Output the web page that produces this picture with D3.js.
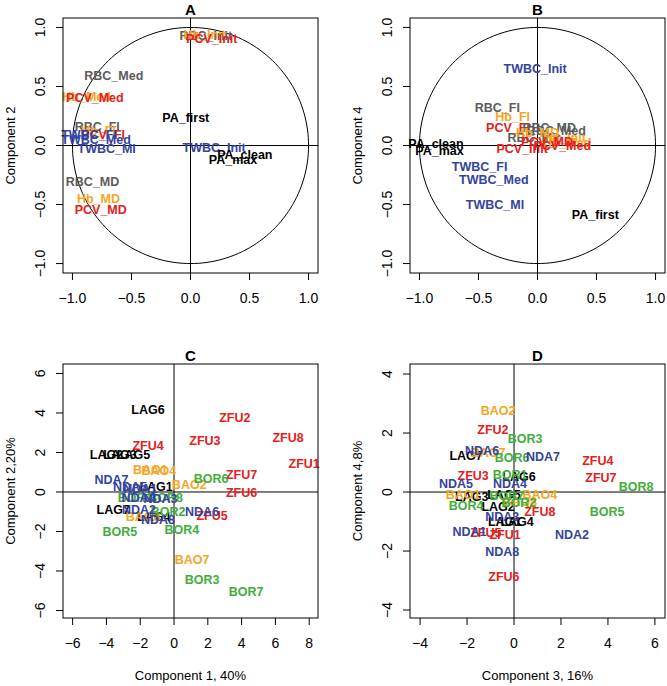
<!DOCTYPE html>
<html><head><meta charset="utf-8">
<script src="https://cdn.jsdelivr.net/npm/d3@7"></script>
<style>body{margin:0;background:#fff}svg{display:block}text{font-family:"Liberation Sans",Arial,sans-serif}</style>
</head><body><svg id="c" width="667" height="686"></svg>
<script>
// ---- variable loadings (panels A, B) ----
const varNames = ["RBC_Init","Hb_Init","PCV_Init","RBC_Med","Hb_Med","PCV_Med","RBC_FI","Hb_FI","PCV_FI","RBC_MD","Hb_MD","PCV_MD","TWBC_Init","TWBC_Med","TWBC_FI","TWBC_MI","PA_first","PA_clean","PA_max"];
const varGroup = ["RBC","Hb","PCV","RBC","Hb","PCV","RBC","Hb","PCV","RBC","Hb","PCV","TWBC","TWBC","TWBC","TWBC","PA","PA","PA"];
const loadA_x = [0.13,0.12,0.18,-0.65,-0.88,-0.81,-0.79,-0.78,-0.74,-0.83,-0.78,-0.76,0.20,-0.80,-0.86,-0.71,-0.04,0.46,0.36];
const loadA_y = [0.93,0.94,0.90,0.59,0.41,0.40,0.16,0.12,0.09,-0.31,-0.45,-0.55,-0.02,0.05,0.09,-0.03,0.23,-0.08,-0.12];
const loadB_x = [-0.03,0.23,-0.13,0.16,0.25,0.21,-0.34,-0.21,-0.25,0.10,0.0,0.08,-0.02,-0.37,-0.49,-0.36,0.49,-0.86,-0.83];
const loadB_y = [0.06,0.06,-0.03,0.12,0.02,0.0,0.32,0.24,0.15,0.15,0.11,0.03,0.65,-0.29,-0.18,-0.50,-0.59,0.01,-0.05];

// ---- sample scores (panels C, D) ----
const sampleNames = ["LAG1","LAG2","LAG3","LAG4","LAG5","LAG6","LAG7","ZFU1","ZFU2","ZFU3","ZFU4","ZFU5","ZFU6","ZFU7","ZFU8","BAO1","BAO2","BAO4","BAO7","BAO8","BOR1","BOR2","BOR3","BOR4","BOR5","BOR6","BOR7","BOR8","NDA1","NDA2","NDA3","NDA4","NDA5","NDA6","NDA7","NDA8"];
const sampleGroup = ["LAG","LAG","LAG","LAG","LAG","LAG","LAG","ZFU","ZFU","ZFU","ZFU","ZFU","ZFU","ZFU","ZFU","BAO","BAO","BAO","BAO","BAO","BOR","BOR","BOR","BOR","BOR","BOR","BOR","BOR","NDA","NDA","NDA","NDA","NDA","NDA","NDA","NDA"];
const scoreC_x = [-1.06,-4.0,-3.2,-1.2,-2.4,-1.54,-3.6,7.7,3.6,1.83,-1.54,2.25,4.0,4.0,6.75,-1.4,0.9,-0.9,1.07,-1.83,-2.3,-0.35,1.66,0.47,-3.2,2.2,4.26,-0.5,-2.0,-2.07,-0.8,-2.1,-2.6,1.66,-3.7,-0.95];
const scoreC_y = [0.25,1.85,1.85,-1.25,1.85,4.15,-0.9,1.42,3.75,2.58,2.33,-1.2,-0.05,0.85,2.73,1.1,0.35,1.05,-3.44,-1.25,-0.3,-1.0,-4.46,-1.93,-2.03,0.65,-5.06,-0.3,0.15,-0.9,-0.35,-0.3,0.25,-1.0,0.6,-1.4];
const scoreD_x = [-0.4,-0.68,-1.8,0.13,-0.43,0.21,-2.04,-0.38,-0.9,-1.74,3.57,-1.2,-0.43,3.7,1.1,-2.17,-0.68,1.1,-1.1,0.25,-0.17,0.21,0.47,-2.04,3.96,-0.08,-0.3,5.2,-1.9,2.47,-0.5,-0.17,-2.47,-1.36,1.23,-0.5];
const scoreD_y = [-1.02,-0.5,-0.17,-1.02,-0.1,0.51,1.22,-1.46,2.1,0.54,1.05,-1.39,-2.88,0.47,-0.68,-0.1,2.75,-0.1,1.32,-0.33,0.58,-0.37,1.8,-0.47,-0.68,1.15,-0.15,0.17,-1.35,-1.46,-0.85,0.27,0.27,1.39,1.19,-2.03];

// ---- axes ----
const ticksLoad = [-1,-0.5,0,0.5,1];
const ticksC_x = [-6,-4,-2,0,2,4,6,8];
const ticksC_y = [-6,-4,-2,0,2,4,6];
const ticksD_x = [-4,-2,0,2,4,6];
const ticksD_y = [-4,-2,0,2,4];

const colors = {RBC:"#5c5c5c",Hb:"#f5a623",PCV:"#e3201b",TWBC:"#3344a0",PA:"#000000",
  LAG:"#000000",ZFU:"#e3201b",BAO:"#f5a623",BOR:"#3fae3a",NDA:"#3344a0"};

const svg = d3.select("#c");
svg.append("rect").attr("width",667).attr("height",686).attr("fill","#fff");

const panels = [
  {title:"A", box:[63,18,318,273], xd:[-1.08,1.08], yd:[-1.08,1.08], xt:ticksLoad, yt:ticksLoad, fmt:d3.format(".1f"), circle:true,
   names:varNames, groups:varGroup, xs:loadA_x, ys:loadA_y, ylab:"Component 2", xlab:null},
  {title:"B", box:[410,18,665,273], xd:[-1.08,1.08], yd:[-1.08,1.08], xt:ticksLoad, yt:ticksLoad, fmt:d3.format(".1f"), circle:true,
   names:varNames, groups:varGroup, xs:loadB_x, ys:loadB_y, ylab:"Component 4", xlab:null},
  {title:"C", box:[63,364,318,618], xd:[-6.57,8.52], yd:[-6.38,6.48], xt:ticksC_x, yt:ticksC_y, fmt:d3.format("d"), circle:false,
   names:sampleNames, groups:sampleGroup, xs:scoreC_x, ys:scoreC_y, ylab:"Component 2,20%", xlab:"Component 1, 40%"},
  {title:"D", box:[410,364,665,618], xd:[-4.43,6.43], yd:[-4.27,4.34], xt:ticksD_x, yt:ticksD_y, fmt:d3.format("d"), circle:false,
   names:sampleNames, groups:sampleGroup, xs:scoreD_x, ys:scoreD_y, ylab:"Component 4,8%", xlab:"Component 3, 16%"}
];

panels.forEach(p => {
  const [x0,y0,x1,y1] = p.box;
  const x = d3.scaleLinear().domain(p.xd).range([x0,x1]);
  const y = d3.scaleLinear().domain(p.yd).range([y1,y0]);
  const g = svg.append("g");

  // zero lines
  g.append("line").attr("x1",x(0)).attr("x2",x(0)).attr("y1",y0).attr("y2",y1).attr("stroke","#000");
  g.append("line").attr("x1",x0).attr("x2",x1).attr("y1",y(0)).attr("y2",y(0)).attr("stroke","#000");

  if (p.circle) {
    const ang = d3.range(0, 361, 2).map(a => a*Math.PI/180);
    g.append("path").datum(ang)
      .attr("d", d3.line().x(a => x(Math.cos(a))).y(a => y(Math.sin(a))))
      .attr("fill","none").attr("stroke","#000").attr("stroke-width",1);
  }

  // labels
  g.selectAll("text.lab").data(p.names).join("text")
    .attr("class","lab")
    .attr("x",(d,i)=>x(p.xs[i])).attr("y",(d,i)=>y(p.ys[i]))
    .attr("text-anchor","middle").attr("dominant-baseline","central")
    .attr("font-size",12.5).attr("font-weight","bold")
    .attr("fill",(d,i)=>colors[p.groups[i]])
    .text(d=>d);

  // box
  g.append("rect").attr("x",x0).attr("y",y0).attr("width",x1-x0).attr("height",y1-y0)
    .attr("fill","none").attr("stroke","#000").attr("stroke-width",1);

  // x axis (R style)
  const xa = g.append("g").attr("transform",`translate(0,${y1})`);
  p.xt.forEach(t => {
    xa.append("line").attr("x1",x(t)).attr("x2",x(t)).attr("y1",0).attr("y2",7).attr("stroke","#000");
    xa.append("text").attr("x",x(t)).attr("y",25).attr("text-anchor","middle").attr("dominant-baseline","central")
      .attr("font-size",14).attr("fill","#000").text(p.fmt(t));
  });
  // y axis
  const ya = g.append("g").attr("transform",`translate(${x0},0)`);
  p.yt.forEach(t => {
    ya.append("line").attr("y1",y(t)).attr("y2",y(t)).attr("x1",0).attr("x2",-7).attr("stroke","#000");
    ya.append("text").attr("transform",`translate(-23,${y(t)}) rotate(-90)`)
      .attr("text-anchor","middle").attr("dominant-baseline","central")
      .attr("font-size",14).attr("fill","#000").text(p.fmt(t));
  });

  // title
  g.append("text").attr("x",(x0+x1)/2).attr("y",y0-9).attr("text-anchor","middle").attr("dominant-baseline","central")
    .attr("font-size",15).attr("font-weight","bold").text(p.title);
  // axis titles
  g.append("text").attr("transform",`translate(${x0-53},${(y0+y1)/2}) rotate(-90)`)
    .attr("text-anchor","middle").attr("dominant-baseline","central").attr("font-size",13).text(p.ylab);
  if (p.xlab) {
    g.append("text").attr("x",(x0+x1)/2).attr("y",y1+57).attr("text-anchor","middle").attr("dominant-baseline","central")
      .attr("font-size",13).text(p.xlab);
  }
});
</script></body></html>
